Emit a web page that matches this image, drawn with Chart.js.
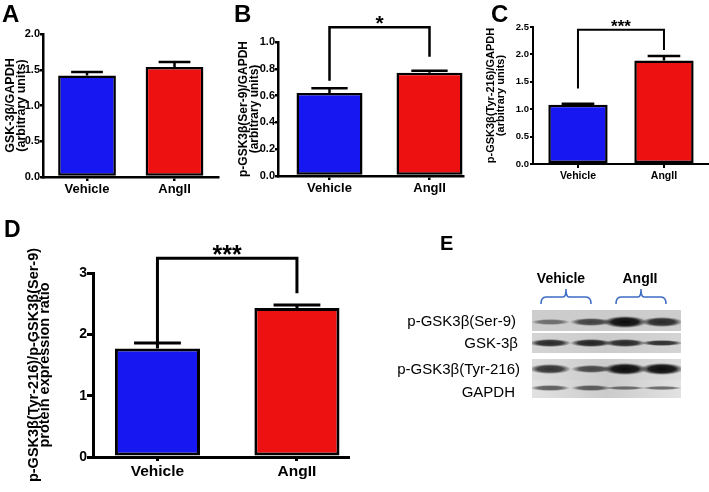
<!DOCTYPE html>
<html>
<head>
<meta charset="utf-8">
<script src="https://cdn.jsdelivr.net/npm/chart.js@4.4.1/dist/chart.umd.min.js"></script>
<style>
html,body{margin:0;padding:0;background:#fff;}
#wrap{position:relative;width:709px;height:492px;overflow:hidden;background:#fff;font-family:"Liberation Sans",Arial,sans-serif;color:#000;}
canvas.c{position:absolute;left:0;top:0;}
.lt{position:absolute;font-weight:bold;line-height:1;white-space:nowrap;}
.bl{position:absolute;font-size:15px;line-height:1;white-space:nowrap;text-align:right;}
.grp{position:absolute;font-size:14px;font-weight:bold;line-height:1;white-space:nowrap;}
.row{position:absolute;overflow:hidden;}
.band{position:absolute;filter:blur(0.7px);}
</style>
</head>
<body>
<div id="wrap">
  <canvas id="cA" class="c" width="709" height="492"></canvas>
  <canvas id="cB" class="c" width="709" height="492"></canvas>
  <canvas id="cC" class="c" width="709" height="492"></canvas>
  <canvas id="cD" class="c" width="709" height="492"></canvas>
  <div class="lt" style="left:2px;top:2px;font-size:24px">A</div>
  <div class="lt" style="left:234px;top:2px;font-size:24px">B</div>
  <div class="lt" style="left:491px;top:2px;font-size:24px">C</div>
  <div class="lt" style="left:4px;top:218px;font-size:23px">D</div>
  <div class="lt" style="left:440px;top:233px;font-size:20px">E</div>
  <div id="blot"></div>
</div>
<script>
// ---------- data ----------
const categories = ['Vehicle', 'AngII'];
const barColors = ['#1717f2', '#ee1111'];

const gsk3bMean = [1.42, 1.54];
const gsk3bSem  = [0.05, 0.07];

const pSer9Mean = [0.62, 0.77];
const pSer9Sem  = [0.035, 0.015];

const pTyr216Mean = [1.08, 1.89];
const pTyr216Sem  = [0.02, 0.08];

const ratioMean = [1.77, 2.43];
const ratioSem  = [0.09, 0.05];

const ticksA = [0, 0.5, 1.0, 1.5, 2.0];
const ticksB = [0, 0.2, 0.4, 0.6, 0.8, 1.0];
const ticksC = [0, 0.5, 1.0, 1.5, 2.0, 2.5];
const ticksD = [0, 1, 2, 3];

const sigB = '*';
const sigC = '***';
const sigD = '***';

// western blot (panel E)
const blotGroups = ['Vehicle', 'AngII'];
const blotRows = ['p-GSK3β(Ser-9)', 'GSK-3β', 'p-GSK3β(Tyr-216)', 'GAPDH'];
const blotIntensity = [
  [0.50, 0.72, 1.00, 0.85],
  [0.85, 0.88, 0.85, 0.82],
  [0.80, 0.70, 1.00, 1.00],
  [0.60, 0.62, 0.55, 0.55]
];

// ---------- charts ----------
Chart.defaults.font.family = "'Liberation Sans', Arial, sans-serif";
Chart.defaults.color = '#000';

function makePanel(id, cfg) {
  const W = 709, H = 492;
  const errPlugin = {
    id: 'err_' + id,
    afterDatasetsDraw(chart) {
      const ctx = chart.ctx, ys = chart.scales.y;
      const meta = chart.getDatasetMeta(0);
      ctx.save();
      ctx.strokeStyle = '#000';
      ctx.lineWidth = cfg.errW;
      meta.data.forEach((el, i) => {
        const top = ys.getPixelForValue(cfg.means[i] + cfg.sem[i]);
        const half = el.width * 0.55 / 2;
        ctx.beginPath();
        ctx.moveTo(el.x, el.y); ctx.lineTo(el.x, top);
        ctx.moveTo(el.x - half, top); ctx.lineTo(el.x + half, top);
        ctx.stroke();
      });
      // significance bracket
      if (cfg.bracket) {
        const b = cfg.bracket;
        const x0 = meta.data[0].x, x1 = meta.data[1].x;
        const yt = ys.getPixelForValue(b.top);
        const y0 = ys.getPixelForValue(b.legs[0]);
        const y1 = ys.getPixelForValue(b.legs[1]);
        ctx.lineWidth = b.lw;
        ctx.lineJoin = 'miter';
        ctx.beginPath();
        ctx.moveTo(x0, y0); ctx.lineTo(x0, yt); ctx.lineTo(x1, yt); ctx.lineTo(x1, y1);
        ctx.stroke();
        ctx.fillStyle = '#000';
        ctx.font = 'bold ' + b.fs + "px 'Liberation Sans', Arial, sans-serif";
        ctx.textAlign = 'center';
        ctx.textBaseline = 'alphabetic';
        const m = ctx.measureText(b.text);
        const cy = yt - b.gap;
        const base = cy + (m.actualBoundingBoxAscent - m.actualBoundingBoxDescent) / 2;
        ctx.fillText(b.text, (x0 + x1) / 2, base);
      }
      ctx.restore();
    }
  };
  return new Chart(document.getElementById(id), {
    type: 'bar',
    data: {
      datasets: [{
        data: cfg.means.map((m, i) => ({ x: i, y: m })),
        backgroundColor: barColors,
        borderColor: '#000',
        borderWidth: cfg.bw,
        borderSkipped: false,
        barPercentage: 1,
        categoryPercentage: cfg.barFrac
      }]
    },
    options: {
      responsive: false, animation: false, devicePixelRatio: 1,
      layout: { padding: {
        left: cfg.area.left - cfg.yw, top: cfg.area.top,
        right: W - cfg.area.right, bottom: H - cfg.area.bottom - cfg.xh } },
      plugins: { legend: { display: false }, tooltip: { enabled: false } },
      scales: {
        x: {
          type: 'linear', min: cfg.xmin, max: cfg.xmax, offset: false,
          afterBuildTicks: s => { s.ticks = categories.map((c, i) => ({ value: i })); },
          afterFit: s => { s.height = cfg.xh; },
          ticks: { callback: v => categories[v], autoSkip: false, maxRotation: 0, minRotation: 0,
                   font: { size: cfg.xfs, weight: 'bold' }, color: '#000', padding: cfg.xpad },
          grid: { drawOnChartArea: false, offset: false, color: '#000', lineWidth: cfg.axW, tickLength: cfg.xtl },
          border: { color: '#000', width: cfg.axW }
        },
        y: {
          min: 0, max: cfg.ticks[cfg.ticks.length - 1],
          afterBuildTicks: s => { s.ticks = cfg.ticks.map(v => ({ value: v })); },
          afterFit: s => { s.width = cfg.yw; },
          ticks: { callback: v => Number(v).toFixed(cfg.dec), font: { size: cfg.yfs, weight: 'bold' },
                   color: '#000', padding: cfg.ypad },
          grid: { drawOnChartArea: false, color: '#000', lineWidth: cfg.axW, tickLength: cfg.ytl },
          border: { color: '#000', width: cfg.axW },
          title: { display: true, text: cfg.title, color: '#000',
                   font: { size: cfg.tfs, weight: 'bold', lineHeight: cfg.tlh },
                   padding: { top: cfg.tpad, bottom: 0 } }
        }
      }
    },
    plugins: [errPlugin]
  });
}

makePanel('cA', {
  means: gsk3bMean, sem: gsk3bSem, ticks: ticksA, dec: 1,
  area: { left: 43, right: 218, top: 34, bottom: 177 },
  xmin: -0.503, xmax: 1.497, barFrac: 0.66,
  yw: 40, xh: 30, bw: 2.5, axW: 2.5, errW: 2.5,
  xfs: 13, xpad: 1, xtl: 4, yfs: 11, ypad: 0, ytl: 3,
  title: ['GSK-3β/GAPDH', '(arbitrary units)'], tfs: 12.5, tlh: 0.9, tpad: 1.5
});

makePanel('cB', {
  means: pSer9Mean, sem: pSer9Sem, ticks: ticksB, dec: 1,
  area: { left: 278, right: 463, top: 42, bottom: 176 },
  xmin: -0.515, xmax: 1.335, barFrac: 0.66,
  yw: 45, xh: 30, bw: 2.5, axW: 2.5, errW: 2.5,
  xfs: 13, xpad: 1, xtl: 4, yfs: 11, ypad: 0, ytl: 3,
  title: ['p-GSK3β(Ser-9)/GAPDH', '(arbitrary units)'], tfs: 12, tlh: 0.9, tpad: 5.5,
  bracket: { top: 1.11, legs: [0.71, 0.89], lw: 2.5, text: sigB, fs: 21, gap: 7 }
});

makePanel('cC', {
  means: pTyr216Mean, sem: pTyr216Sem, ticks: ticksC, dec: 1,
  area: { left: 533, right: 708, top: 27, bottom: 164 },
  xmin: -0.523, xmax: 1.512, barFrac: 0.69,
  yw: 50, xh: 30, bw: 2.5, axW: 2, errW: 2.5,
  xfs: 10.5, xpad: 2, xtl: 4, yfs: 9.5, ypad: 1, ytl: 3,
  title: ['p-GSK3β(Tyr-216)/GAPDH', '(arbitrary units)'], tfs: 11, tlh: 0.9, tpad: 3,
  bracket: { top: 2.45, legs: [1.38, 2.08], lw: 2, text: sigC, fs: 17, gap: 6 }
});

makePanel('cD', {
  means: ratioMean, sem: ratioSem, ticks: ticksD, dec: 0,
  area: { left: 93, right: 348, top: 273, bottom: 457 },
  xmin: -0.462, xmax: 1.366, barFrac: 0.61,
  yw: 70, xh: 30, bw: 3, axW: 3, errW: 3,
  xfs: 15.5, xpad: 1, xtl: 4, yfs: 14, ypad: 0, ytl: 6,
  title: ['p-GSK3β(Tyr-216)/p-GSK3β(Ser-9)', 'protein expression ratio'], tfs: 14.5, tlh: 0.78, tpad: 5,
  bracket: { top: 3.24, legs: [1.87, 2.67], lw: 3, text: sigD, fs: 25, gap: 8 }
});

// ---------- panel E (blot image) ----------
(function buildBlot() {
  const wrap = document.getElementById('wrap');
  const blotLeft = 532, blotW = 149;
  const rowTop = [310, 333, 359, 380];
  const rowH = [21, 20, 21, 18];
  const rowBg = ['#cdcdcd', '#d4d4d4', '#dcdcdc', '#e2e2e2'];
  const bandCy = [12, 10, 10, 8];
  const laneX = [18, 59, 93, 130];
  const labelCy = [321, 343, 369, 392];
  const labelRight = [516, 518, 520, 515];

  blotRows.forEach((name, r) => {
    const row = document.createElement('div');
    row.className = 'row';
    row.style.cssText = `left:${blotLeft}px;top:${rowTop[r]}px;width:${blotW}px;height:${rowH[r]}px;` +
      `background:linear-gradient(90deg,${rowBg[r]},#cbcbcb 50%,${rowBg[r]});`;
    blotIntensity[r].forEach((a, l) => {
      const b = document.createElement('div');
      b.className = 'band';
      const bw = 34 + 10 * a;
      const bh = 3.5 + 9 * a * a * (r === 1 || r === 3 ? 0.55 : 1);
      b.style.cssText = `left:${laneX[l] - bw / 2}px;top:${bandCy[r] - bh / 2}px;width:${bw}px;height:${bh}px;` +
        `background:radial-gradient(closest-side, rgba(10,10,10,${a}) 0%, rgba(10,10,10,${a * 0.9}) 60%, rgba(10,10,10,0) 100%);`;
      row.appendChild(b);
    });
    wrap.appendChild(row);

    const lab = document.createElement('div');
    lab.className = 'bl';
    lab.textContent = name;
    lab.style.cssText = `right:${709 - labelRight[r]}px;top:${labelCy[r] - 8}px;`;
    wrap.appendChild(lab);
  });

  const grpCx = [561, 640];
  blotGroups.forEach((g, i) => {
    const d = document.createElement('div');
    d.className = 'grp';
    d.textContent = g;
    d.style.cssText = `left:${grpCx[i] - 40}px;width:80px;text-align:center;top:${278 - 7}px;`;
    wrap.appendChild(d);
  });

  const svgNS = 'http://www.w3.org/2000/svg';
  const svg = document.createElementNS(svgNS, 'svg');
  svg.setAttribute('width', '709'); svg.setAttribute('height', '492');
  svg.style.cssText = 'position:absolute;left:0;top:0;pointer-events:none;';
  const braces = [[541, 591], [616, 666]];
  braces.forEach(([x0, x1]) => {
    const y = 297, mid = (x0 + x1) / 2;
    const p = document.createElementNS(svgNS, 'path');
    p.setAttribute('d', `M${x0} ${y + 7} Q${x0} ${y} ${x0 + 5} ${y} L${mid - 3} ${y} Q${mid} ${y} ${mid} ${y - 8} Q${mid} ${y} ${mid + 3} ${y} L${x1 - 5} ${y} Q${x1} ${y} ${x1} ${y + 7}`);
    p.setAttribute('fill', 'none');
    p.setAttribute('stroke', '#3c6cc4');
    p.setAttribute('stroke-width', '1.5');
    svg.appendChild(p);
  });
  wrap.appendChild(svg);
})();
</script>
</body>
</html>
